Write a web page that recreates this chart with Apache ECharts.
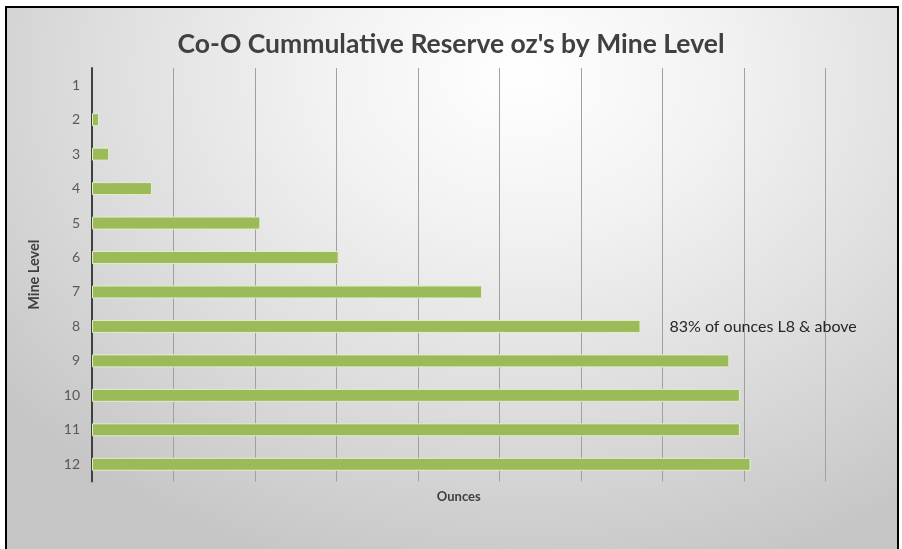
<!DOCTYPE html>
<html>
<head>
<meta charset="utf-8">
<script src="https://cdn.jsdelivr.net/npm/echarts@6/dist/echarts.min.js"></script>
<style>
  html, body { margin: 0; padding: 0; background: #ffffff; }
  #frame {
    position: absolute; left: 5px; top: 6px; width: 890px; height: 545px;
    border: 2px solid #000; border-bottom: none;
    background: radial-gradient(ellipse 75% 95% at 58% 12%, #ffffff 0%, #f2f2f2 30%, #e0e0e0 60%, #c6c6c6 100%);
  }
  #chart { position: absolute; left: 0; top: 0; width: 902px; height: 549px; }
</style>
</head>
<body>
<div id="frame"></div>
<div id="chart"></div>
<script>
const titleText = "Co-O Cummulative Reserve oz's by Mine Level";
const levels = ['1','2','3','4','5','6','7','8','9','10','11','12'];
const ounces = [0, 860, 2100, 7360, 20650, 30270, 47850, 67300, 78200, 79500, 79500, 80800];
const noteLevel = '8';
const noteText = '83% of ounces L8 & above';
const xAxisName = 'Ounces';
const yAxisName = 'Mine Level';

const chart = echarts.init(document.getElementById('chart'), null, { renderer: 'canvas' });
const font = 'Lato, "Open Sans", sans-serif';

chart.setOption({
  backgroundColor: 'transparent',
  animation: false,
  title: {
    text: titleText,
    left: 'center',
    top: 26,
    textStyle: { fontFamily: font, fontSize: 26.5, fontWeight: 'bold', color: '#404040' }
  },
  grid: { left: 92, right: 76.5, top: 68, bottom: 67.5 },
  xAxis: {
    type: 'value',
    min: 0, max: 90000, interval: 10000,
    name: xAxisName,
    nameLocation: 'middle',
    nameGap: 9,
    nameTextStyle: { fontFamily: font, fontSize: 13, fontWeight: 'bold', color: '#404040' },
    axisLine: { show: false },
    axisTick: { show: false },
    axisLabel: { show: false },
    splitLine: { show: true, lineStyle: { color: '#a0a0a0', width: 1 } }
  },
  yAxis: {
    type: 'category',
    data: levels,
    inverse: true,
    name: yAxisName,
    nameLocation: 'middle',
    nameGap: 50,
    nameRotate: 90,
    nameTextStyle: { fontFamily: font, fontSize: 14.5, fontWeight: 'bold', color: '#404040' },
    axisLine: { show: true, lineStyle: { color: '#404040', width: 2 } },
    axisTick: { show: false },
    axisLabel: { fontFamily: font, fontSize: 14, color: '#595959', margin: 12 },
    splitLine: { show: false }
  },
  series: [{
    type: 'bar',
    data: ounces.map((v, i) => {
      const item = { value: v };
      if (v === 0) item.itemStyle = { borderWidth: 0 };
      if (levels[i] === noteLevel) {
        item.label = {
          show: true, position: 'right', distance: 29,
          formatter: noteText,
          fontFamily: font, fontSize: 16, color: '#262626'
        };
      }
      return item;
    }),
    barWidth: 13,
    itemStyle: { color: '#9bbb59', borderColor: '#e4edd0', borderWidth: 1 }
  }]
});
</script>
</body>
</html>
